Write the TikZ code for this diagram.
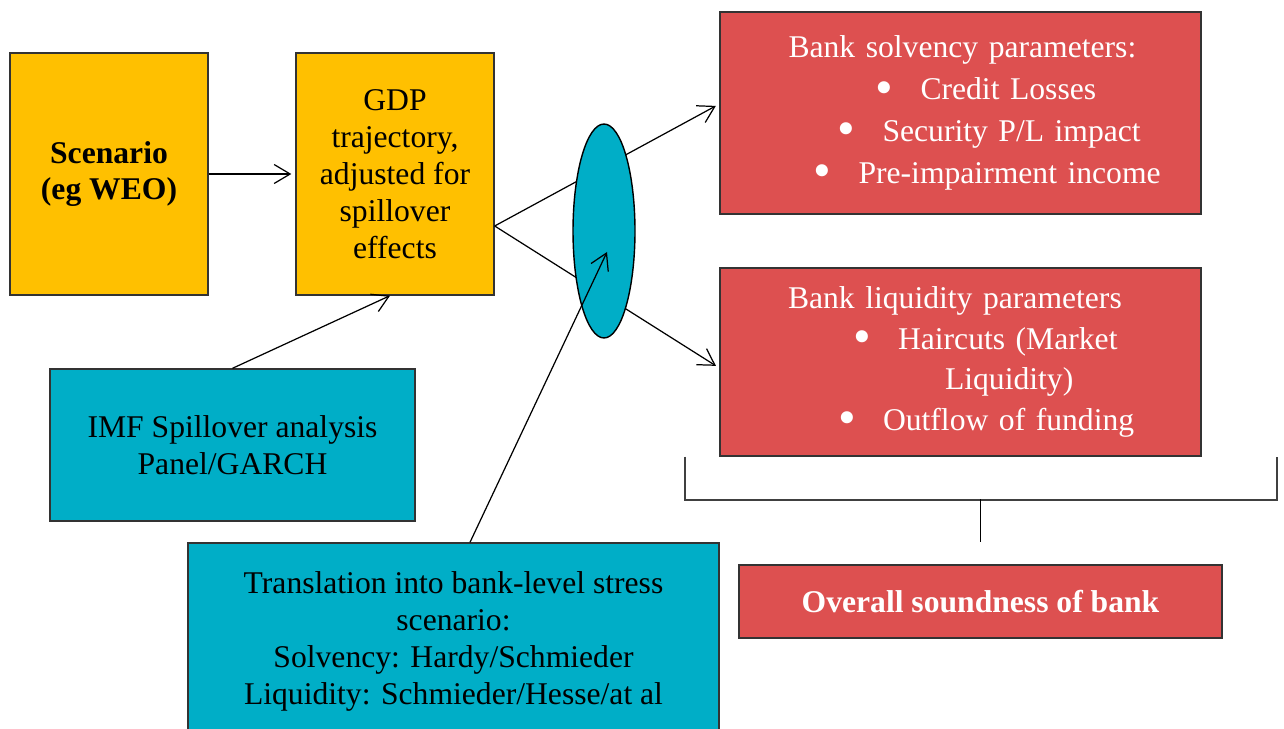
\documentclass[tikz,border=0pt]{standalone}
\usepackage{fontspec}
\setmainfont{Liberation Serif}
\usetikzlibrary{shapes.geometric, arrows.meta, positioning, calc}

\definecolor{scenorange}{HTML}{FFC000}
\definecolor{imfteal}{HTML}{00AEC7}
\definecolor{bankred}{HTML}{DD5050}

% bullet followed by the gap to the item text
\newcommand{\bul}{\makebox[0.9cm][l]{\raisebox{-0.3ex}{\scalebox{1.6}{\textbullet}}}}

\begin{document}
\begin{tikzpicture}[
    x=0.02cm, y=-0.02cm,
    box/.style={rectangle, draw=black!80, line width=0.8pt, align=center, inner sep=0pt, font=\fontsize{18}{21}\selectfont},
    ybox/.style={box, fill=scenorange, minimum width=3.96cm, minimum height=4.84cm},
    tbox/.style={box, fill=imfteal},
    rbox/.style={box, fill=bankred, text=white},
    plist/.style={rbox, align=left, text width=8.2cm, minimum width=9.62cm},
    arrow/.style={-{Straight Barb[length=3.2mm, width=3.8mm]}, line width=0.7pt},
    bracket/.style={draw=black!75, line width=1pt}
]
\useasboundingbox (0,0) rectangle (1284,729);

\node[ybox, font={\fontsize{18}{21}\selectfont\bfseries}] (scen) at (109,174) {Scenario\\(eg WEO)};
\node[ybox] (gdp) at (395,174) {GDP\\trajectory,\\adjusted for\\spillover\\effects};

\node[plist, minimum height=4.04cm, font=\fontsize{18}{23.8}\selectfont] (solv) at (960.5,113)
    {\hspace*{0.66cm}Bank solvency parameters:\\
     \hspace*{2.4cm}\bul Credit Losses\\
     \hspace*{1.64cm}\bul Security P/L impact\\
     \hspace*{1.16cm}\bul Pre-impairment income};
\node[plist, minimum height=3.76cm, font=\fontsize{18}{23}\selectfont] (liq) at (960.5,362)
    {\hspace*{0.65cm}Bank liquidity parameters\\
     \hspace*{1.95cm}\bul Haircuts (Market\\
     \hspace*{3.79cm}Liquidity)\\
     \hspace*{1.65cm}\bul Outflow of funding};

\node[tbox, minimum width=7.3cm, minimum height=3.04cm] (imf) at (232.5,445) {IMF Spillover analysis\\Panel/GARCH};
\node[tbox, minimum width=10.62cm, minimum height=3.94cm] (trans) at (453.5,641.5)
    {Translation into bank-level stress\\scenario:\\Solvency: Hardy/Schmieder\\Liquidity: Schmieder/Hesse/at al};
\node[rbox, minimum width=9.66cm, minimum height=1.46cm, font={\fontsize{18}{21}\selectfont\bfseries}] (sound) at (980.5,601.5) {Overall soundness of bank};

% GDP path fans out to both parameter sets
\coordinate (fork) at ([yshift=-1.04cm]gdp.east);
\draw[arrow, shorten >=0.08cm] (scen.east) -- (gdp.west);
\draw[arrow] (imf.north) -- ([xshift=-0.1cm]gdp.south);
\draw[arrow, shorten >=0.08cm] (fork) -- ([yshift=0.18cm]solv.west);
\draw[arrow, shorten >=0.08cm] (fork) -- ([yshift=-0.12cm]liq.west);

\node[ellipse, draw=black, line width=0.8pt, fill=imfteal, minimum width=1.24cm, minimum height=4.28cm, inner sep=0pt] (hub) at (604,231) {};
\draw[arrow] ([xshift=0.33cm]trans.north) -- ([shift={(0.06cm,-0.42cm)}]hub.center);

% bracket joining solvency and liquidity
\draw[bracket] ([xshift=-0.68cm]liq.south west) -- ++(0,43) -| ([xshift=1.5cm]liq.south east);
\draw[line width=0.7pt] (sound.north |- 0,499) -- ([yshift=0.44cm]sound.north);
\end{tikzpicture}
\end{document}
